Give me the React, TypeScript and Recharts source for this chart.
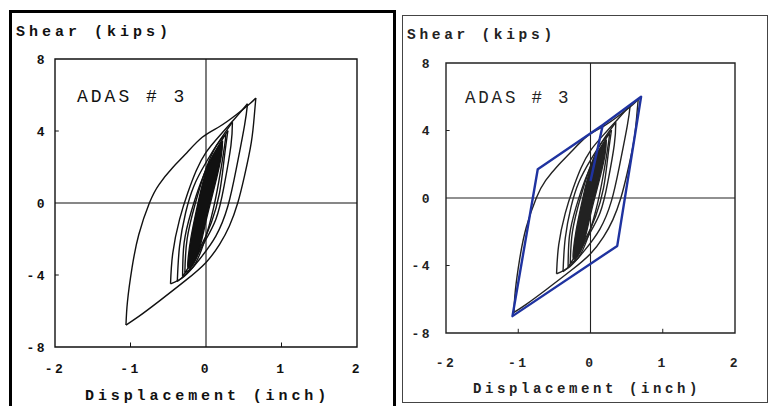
import { ScatterChart, Scatter, XAxis, YAxis, ReferenceLine, ReferenceArea } from "recharts";

const xTicks = [-2, -1, 0, 1, 2];
const yTicks = [-8, -4, 0, 4, 8];

// each cycle split into its unloading branch (top tip -> bottom tip) and reloading branch
const bigDown = [
  { x: 0.66, y: 5.83 }, { x: 0.64, y: 4.86 }, { x: 0.6, y: 3.37 }, { x: 0.51, y: 1.51 },
  { x: 0.42, y: 0 }, { x: 0.31, y: -1.28 }, { x: 0.18, y: -2.3 }, { x: 0, y: -3.3 },
  { x: -0.27, y: -4.3 }, { x: -0.62, y: -5.45 }, { x: -0.89, y: -6.3 }, { x: -1.06, y: -6.78 },
];
const bigUp = [
  { x: -1.06, y: -6.78 }, { x: -1.04, y: -5.47 }, { x: -0.98, y: -3.61 }, { x: -0.89, y: -1.75 },
  { x: -0.75, y: 0 }, { x: -0.62, y: 1.04 }, { x: -0.44, y: 1.97 }, { x: -0.27, y: 2.72 },
  { x: -0.05, y: 3.65 }, { x: 0.18, y: 4.25 }, { x: 0.4, y: 4.9 }, { x: 0.58, y: 5.51 },
  { x: 0.66, y: 5.83 },
];

const loop2Down = [
  { x: 0.55, y: 5.51 }, { x: 0.51, y: 4.3 }, { x: 0.4, y: 1.88 }, { x: 0.29, y: -0.17 },
  { x: 0.13, y: -1.84 }, { x: -0.09, y: -3.15 }, { x: -0.29, y: -4.08 }, { x: -0.47, y: -4.49 },
];
const loop2Up = [
  { x: -0.47, y: -4.49 }, { x: -0.44, y: -2.78 }, { x: -0.35, y: -0.91 }, { x: -0.24, y: 0.58 },
  { x: -0.13, y: 1.79 }, { x: 0, y: 2.81 }, { x: 0.18, y: 3.74 }, { x: 0.38, y: 4.68 },
  { x: 0.55, y: 5.51 },
];

const loop3Down = [
  { x: 0.35, y: 4.49 }, { x: 0.33, y: 3.18 }, { x: 0.24, y: 0.95 }, { x: 0.13, y: -0.91 },
  { x: -0.05, y: -2.4 }, { x: -0.22, y: -3.7 }, { x: -0.38, y: -4.36 },
];
const loop3Up = [
  { x: -0.38, y: -4.36 }, { x: -0.35, y: -2.4 }, { x: -0.27, y: -0.54 }, { x: -0.16, y: 0.95 },
  { x: 0, y: 2.25 }, { x: 0.18, y: 3.46 }, { x: 0.35, y: 4.49 },
];

const loop4Down = [
  { x: 0.29, y: 4.02 }, { x: 0.24, y: 2.44 }, { x: 0.18, y: 0.58 }, { x: 0.07, y: -1.1 },
  { x: -0.09, y: -2.59 }, { x: -0.31, y: -4.08 },
];
const loop4Up = [
  { x: -0.31, y: -4.08 }, { x: -0.29, y: -2.22 }, { x: -0.2, y: -0.54 }, { x: -0.07, y: 1.13 },
  { x: 0.09, y: 2.63 }, { x: 0.29, y: 4.02 },
];

const loop5Down = [
  { x: 0.26, y: 3.8 }, { x: 0.25, y: 3.3 }, { x: 0.17, y: 1.2 }, { x: 0.07, y: -0.8 },
  { x: -0.06, y: -2.6 }, { x: -0.18, y: -3.6 }, { x: -0.28, y: -3.85 },
];
const loop5Up = [
  { x: -0.28, y: -3.85 }, { x: -0.25, y: -2 }, { x: -0.14, y: 0 }, { x: 0, y: 1.9 },
  { x: 0.14, y: 3.2 }, { x: 0.26, y: 3.8 },
];

// the small cycles run together into a solid black core
const core = [
  { x: 0.22, y: 3.46 }, { x: 0.2, y: 2.53 }, { x: 0.11, y: 0.85 }, { x: 0, y: -1.0 },
  { x: -0.11, y: -2.87 }, { x: -0.22, y: -3.61 }, { x: -0.24, y: -3.24 }, { x: -0.2, y: -1.94 },
  { x: -0.11, y: -0.07 }, { x: 0.02, y: 1.97 }, { x: 0.22, y: 3.46 },
];

// bilinear envelope drawn over the right copy
const envelope = [
  { x: 0.0, y: 1.0 }, { x: 0.17, y: 4.33 }, { x: 0.7, y: 6.0 }, { x: 0.37, y: -2.84 },
  { x: -1.08, y: -7.0 }, { x: -0.73, y: 1.7 }, { x: 0.17, y: 4.33 },
];

const branches = [
  bigDown, bigUp, loop2Down, loop2Up, loop3Down, loop3Up, loop4Down, loop4Up, loop5Down, loop5Up,
];

const mono = "'Liberation Mono', 'DejaVu Sans Mono', monospace";
const noDot = () => <g />;

const fmt = (v: number) => (v < 0 ? `-${Math.abs(v)}` : `${v}`);

type PanelProps = {
  left: number;
  width: number;
  margin: { top: number; right: number; bottom: number; left: number };
  xDy: number;
  yDx: number;
  ink: string;
  blue?: boolean;
};

const Panel = ({ left, width, margin, xDy, yDx, ink, blue }: PanelProps) => {
  const xTick = (p: any) => (
    <text x={p.x} y={p.y + xDy} textAnchor="middle" fontFamily={mono} fontWeight={700}
      fontSize={13} letterSpacing={2.5} fill={ink}>
      {fmt(p.payload.value)}
    </text>
  );
  const yTick = (p: any) => (
    <text x={p.x + yDx} y={p.y + 4.5} textAnchor="end" fontFamily={mono} fontWeight={700}
      fontSize={13} letterSpacing={2.5} fill={ink}>
      {fmt(p.payload.value)}
    </text>
  );
  return (
    <div style={{ position: "absolute", left, top: 0 }}>
      <ScatterChart width={width} height={406} margin={margin}>
        <XAxis type="number" dataKey="x" domain={[-2, 2]} ticks={xTicks} axisLine={false}
          tickLine={false} tick={xTick} height={30} allowDataOverflow />
        <YAxis type="number" dataKey="y" domain={[-8, 8]} ticks={yTicks} axisLine={false}
          tickLine={false} tick={yTick} width={40} allowDataOverflow />
        <ReferenceArea x1={-2} x2={2} y1={-8} y2={8} fill="none" stroke={ink} strokeWidth={1.4} />
        <ReferenceLine x={0} stroke={ink} strokeWidth={1.1} />
        <ReferenceLine y={0} stroke={ink} strokeWidth={1.1} />
        <ReferenceLine segment={[{ x: -1, y: -8 }, { x: -1, y: -7.75 }]} stroke={ink} />
        <ReferenceLine segment={[{ x: 1, y: -8 }, { x: 1, y: -7.75 }]} stroke={ink} />
        <ReferenceLine segment={[{ x: -2, y: 4 }, { x: -1.95, y: 4 }]} stroke={ink} />
        <ReferenceLine segment={[{ x: -2, y: -4 }, { x: -1.95, y: -4 }]} stroke={ink} />
        {branches.map((d, i) => (
          <Scatter key={i} data={d} shape={noDot} fill={ink} isAnimationActive={false}
            lineJointType="natural"
            line={{ stroke: ink, strokeWidth: 1.4, strokeLinejoin: "round" }} />
        ))}
        <Scatter data={core} shape={noDot} fill={ink} isAnimationActive={false}
          lineJointType="natural" line={{ stroke: ink, strokeWidth: 1.3, fill: ink }} />
        {blue && (
          <Scatter data={envelope} shape={noDot} fill="#1f33a0" isAnimationActive={false}
            line={{ stroke: "#1f33a0", strokeWidth: 2.4, strokeLinejoin: "round" }} />
        )}
      </ScatterChart>
    </div>
  );
};

const text = (left: number, top: number, size: number, spacing: number, bold: boolean, color: string) => ({
  position: "absolute" as const,
  left,
  top,
  fontFamily: mono,
  fontSize: size,
  letterSpacing: spacing,
  fontWeight: bold ? 700 : 400,
  color,
  lineHeight: 1,
  whiteSpace: "nowrap" as const,
});

export default function App() {
  return (
    <div style={{ position: "absolute", left: 0, top: 0, width: 770, height: 406, overflow: "hidden", background: "#fff" }}>
      <div style={{ position: "absolute", left: 9, top: 10, width: 381, height: 420, border: "3px solid #000" }} />
      <div style={{ position: "absolute", left: 402, top: 15, width: 364, height: 386, border: "1.5px solid #444" }} />

      <Panel left={0} width={400} margin={{ top: 59, right: 43, bottom: 29, left: 15 }}
        xDy={18} yDx={0} ink="#111" />
      <Panel left={385} width={385} margin={{ top: 63, right: 35, bottom: 43, left: 21 }}
        xDy={26} yDx={-6} ink="#222" blue />

      <div style={text(16, 25, 15, 4, true, "#111")}>Shear (kips)</div>
      <div style={text(85, 389, 15, 3.9, true, "#111")}>Displacement (inch)</div>
      <div style={text(77, 88, 18, 3, false, "#111")}>ADAS # 3</div>

      <div style={text(407, 28, 14.5, 3.7, true, "#222")}>Shear (kips)</div>
      <div style={text(473, 382, 14, 3.6, true, "#222")}>Displacement (inch)</div>
      <div style={text(465, 90, 17.5, 2.8, false, "#222")}>ADAS # 3</div>
    </div>
  );
}
